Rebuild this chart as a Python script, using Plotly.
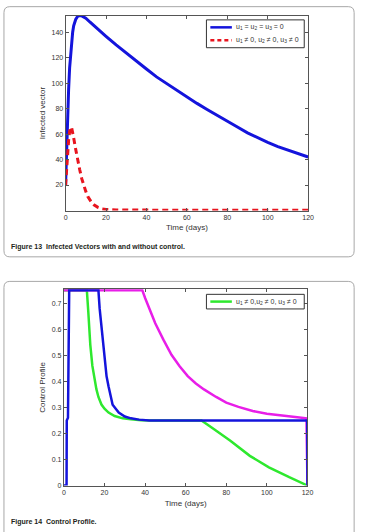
import plotly.graph_objects as go

# ---------------- Data: Figure 13 (infected vectors) ----------------
t_no_control = [0, 0.5, 1, 1.5, 2, 2.5, 3, 3.5, 4, 5, 6, 7, 8, 10, 12, 15, 20, 25, 30, 35,
                40, 45, 50, 55, 60, 65, 70, 75, 80, 85, 90, 95, 100, 105, 110, 115, 120]
iv_no_control = [20, 50, 76, 95, 112, 123, 132, 140, 145, 150, 152.5, 153, 152.8, 151, 148,
                 143.5, 136.8, 130, 123.5, 117.4, 111.1, 104.9, 99.6, 94.2, 88.9, 84.1, 79.3,
                 74.5, 70, 65.5, 61, 57, 53.5, 50.2, 47.3, 44.6, 42]

t_control = [0, 0.5, 1, 1.5, 2, 2.5, 3, 3.5, 4, 5, 6, 7, 8, 9, 10, 11, 12, 13, 14, 16, 18,
             20, 25, 30, 40, 60, 80, 100, 120]
iv_control = [20, 33, 45, 55, 62, 65.5, 65, 62, 57, 48, 39, 32, 25, 19.5, 15, 11, 8, 6, 4.5,
              2.5, 1.3, 0.8, 0.4, 0.3, 0.2, 0.2, 0.2, 0.2, 0.2]

# ---------------- Data: Figure 14 (control profile) ----------------
t_u1 = [0, 11.3, 12, 12.5, 13, 14, 15, 16, 17, 18.5, 20, 22, 25, 29, 33, 38, 45, 67.8,
        74, 82, 91.6, 101, 111, 120]
u1 = [0.75, 0.75, 0.668, 0.6, 0.54, 0.46, 0.405, 0.37, 0.34, 0.311, 0.295, 0.28, 0.267,
      0.258, 0.254, 0.251, 0.25, 0.25, 0.216, 0.172, 0.114, 0.07, 0.032, 0.0]

t_u3 = [0, 38.6, 40, 42.5, 45, 49, 53, 57, 61, 65, 69, 75, 80, 86, 93, 100, 109, 115,
        119.5, 120]
u3 = [0.75, 0.75, 0.72, 0.67, 0.623, 0.56, 0.502, 0.458, 0.42, 0.392, 0.369, 0.34, 0.318,
      0.302, 0.286, 0.276, 0.266, 0.262, 0.258, 0.0]

t_u2 = [0, 1.3, 1.4, 2.0, 2.6, 17.0, 17.6, 18.5, 19.3, 20.1, 21, 22, 24, 27, 30, 33, 37,
        42, 119.9, 120]
u2 = [0, 0, 0.25, 0.26, 0.75, 0.75, 0.68, 0.604, 0.535, 0.477, 0.42, 0.38, 0.31, 0.28,
      0.265, 0.258, 0.253, 0.25, 0.25, 0.0]

x_ticks = [0, 20, 40, 60, 80, 100, 120]
y1_ticks = [20, 40, 60, 80, 100, 120, 140]
y2_ticks = [0, 0.1, 0.2, 0.3, 0.4, 0.5, 0.6, 0.7]
y2_ticktext = ["0", "0.1", "0.2", "0.3", "0.4", "0.5", "0.6", "0.7"]

legend_top = ["u<sub>1</sub> = u<sub>2</sub> = u<sub>3</sub> = 0",
              "u<sub>1</sub> ≠ 0, u<sub>2</sub> ≠ 0, u<sub>3</sub> ≠ 0"]
legend_bottom = "u<sub>1</sub> ≠ 0,u<sub>2</sub> ≠ 0, u<sub>3</sub> ≠ 0"
captions = ["<b>Figure 13  Infected Vectors with and without control.</b>",
            "<b>Figure 14  Control Profile.</b>"]

# ---------------- Figure ----------------
W, H = 366, 532
BLUE = "#1414dc"
RED = "#e8141e"
GREEN = "#2ee82e"
MAGENTA = "#e81ee8"
FONT = "Liberation Sans, Arial, sans-serif"

fig = go.Figure()

fig.add_trace(go.Scatter(x=t_no_control, y=iv_no_control, mode="lines",
                         line=dict(color=BLUE, width=3), name=legend_top[0],
                         xaxis="x", yaxis="y", showlegend=False))
fig.add_trace(go.Scatter(x=t_control, y=iv_control, mode="lines",
                         line=dict(color=RED, width=3, dash="6px,4px"), name=legend_top[1],
                         xaxis="x", yaxis="y", showlegend=False))

fig.add_trace(go.Scatter(x=t_u1, y=u1, mode="lines", line=dict(color=GREEN, width=2.5),
                         name=legend_bottom, xaxis="x2", yaxis="y2", showlegend=False))
fig.add_trace(go.Scatter(x=t_u3, y=u3, mode="lines", line=dict(color=MAGENTA, width=2.5),
                         showlegend=False, xaxis="x2", yaxis="y2"))
fig.add_trace(go.Scatter(x=t_u2, y=u2, mode="lines", line=dict(color=BLUE, width=2.5),
                         showlegend=False, xaxis="x2", yaxis="y2"))


def px(x):
    return x / W


def py(y):
    return 1 - y / H


axis_common = dict(showline=True, linecolor="#555555", linewidth=1, mirror="ticks",
                   ticks="inside", ticklen=3, tickcolor="#555555", showgrid=False,
                   zeroline=False, tickfont=dict(family=FONT, size=7, color="#333333"))

fig.update_layout(
    width=W, height=H, margin=dict(l=0, r=0, t=0, b=0),
    paper_bgcolor="white", plot_bgcolor="white",
    font=dict(family=FONT, size=7, color="#333333"),
    showlegend=False,
    xaxis=dict(domain=[px(65), px(313)], range=[0, 120], tickvals=x_ticks, anchor="y",
               title=dict(text="Time (days)", font=dict(size=8), standoff=4),
               **axis_common),
    yaxis=dict(domain=[py(211.7), py(15.7)], range=[0, 153], tickvals=y1_ticks, anchor="x",
               title=dict(text="Infected vector", font=dict(size=8), standoff=4),
               **axis_common),
    xaxis2=dict(domain=[px(63.3), px(312.3)], range=[0, 120], tickvals=x_ticks, anchor="y2",
                title=dict(text="Time (days)", font=dict(size=8), standoff=5),
                **axis_common),
    yaxis2=dict(domain=[py(488.3), py(291)], range=[0, 0.753], tickvals=y2_ticks,
                ticktext=y2_ticktext, anchor="x2",
                title=dict(text="Control Profile", font=dict(size=8), standoff=4),
                **axis_common),
)


def rounded_panel(l, t, r, b, rad=6):
    return (f"M {px(l)},{py(t + rad)} Q {px(l)},{py(t)} {px(l + rad)},{py(t)} "
            f"L {px(r - rad)},{py(t)} Q {px(r)},{py(t)} {px(r)},{py(t + rad)} "
            f"L {px(r)},{py(b - rad)} Q {px(r)},{py(b)} {px(r - rad)},{py(b)} "
            f"L {px(l + rad)},{py(b)} Q {px(l)},{py(b)} {px(l)},{py(b - rad)} Z")


for (l, t, r, b) in [(2, 6.7, 360, 258.3), (2, 283, 360, 560)]:
    fig.add_shape(type="path", path=rounded_panel(l, t, r, b), xref="paper", yref="paper",
                  line=dict(color="#a8a8a8", width=1), fillcolor="rgba(0,0,0,0)", layer="below")

# ---- manual legends (box, sample line, label) ----
def legend_box(l, t, r, b):
    fig.add_shape(type="rect", x0=px(l), x1=px(r), y0=py(b), y1=py(t), xref="paper",
                  yref="paper", line=dict(color="#333333", width=1), fillcolor="white")


def legend_row(yc, color, dash, label):
    fig.add_shape(type="line", x0=px(213), x1=px(235), y0=py(yc), y1=py(yc), xref="paper",
                  yref="paper", line=dict(color=color, width=2.5, dash=dash))
    fig.add_annotation(text=label, x=px(237.5), y=py(yc), xref="paper", yref="paper",
                       xanchor="left", yanchor="middle", showarrow=False,
                       font=dict(family=FONT, size=7, color="#333333"))


legend_box(209, 20, 309, 48)
legend_row(27.5, BLUE, "solid", legend_top[0])
legend_row(40.5, RED, "4px,3px", legend_top[1])

legend_box(209, 296, 309, 310.7)
legend_row(303.3, GREEN, "solid", legend_bottom)

for cap, yc in zip(captions, [248.3, 525]):
    fig.add_annotation(text=cap, x=px(7.5), y=py(yc), xref="paper", yref="paper",
                       xanchor="left", yanchor="middle", showarrow=False,
                       font=dict(family=FONT, size=7, color="#231f20"))

fig.write_html("out.html")
